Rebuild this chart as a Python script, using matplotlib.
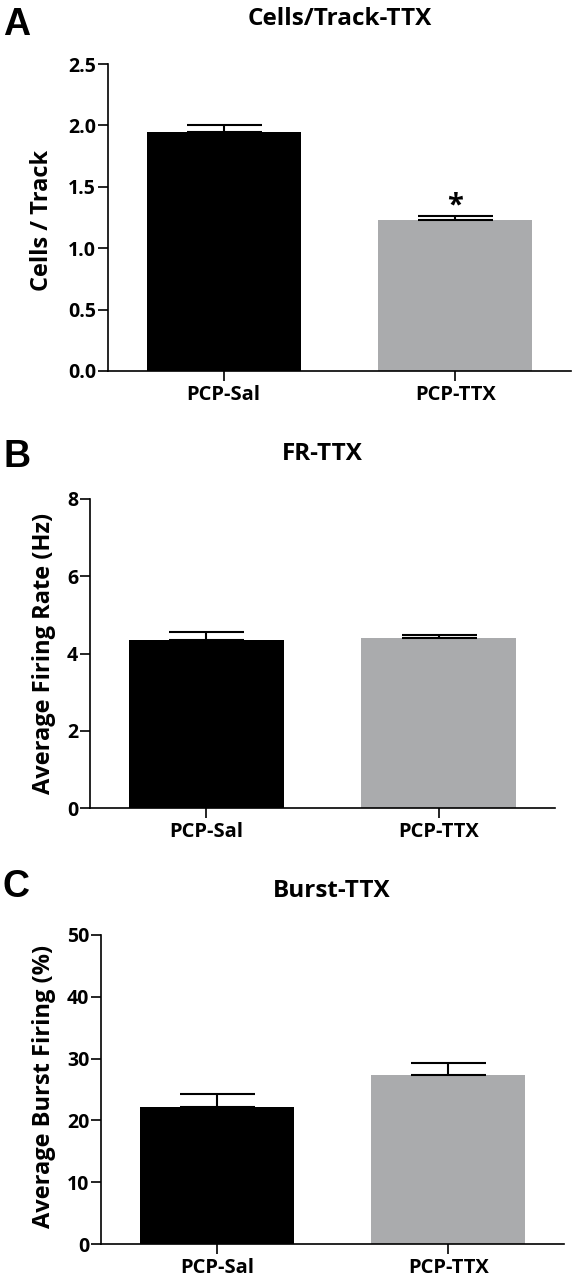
import matplotlib
matplotlib.use('Agg')
import matplotlib.pyplot as plt

plt.rcParams['font.family'] = ['Open Sans', 'DejaVu Sans']
plt.rcParams['font.weight'] = 'bold'

groups = ['PCP-Sal', 'PCP-TTX']
bar_colors = ['#000000', '#aaabad']

# A: cells per track
cells_mean = [1.95, 1.23]
cells_sem = [0.05, 0.035]
# B: firing rate
fr_mean = [4.35, 4.40]
fr_sem = [0.20, 0.09]
# C: burst firing
burst_mean = [22.2, 27.3]
burst_sem = [2.1, 2.0]

fig = plt.figure(figsize=(5.74, 12.8), dpi=100)
W, H = 574, 1280


def make_axes(left, right, top, bottom):
    return fig.add_axes([left / W, 1 - bottom / H, (right - left) / W, (bottom - top) / H])


def draw_panel(ax, means, sems, yticks, ylabels):
    x = list(range(len(groups)))
    ax.bar(x, means, width=0.667, color=bar_colors, zorder=2)
    for i in x:
        ax.errorbar(i, means[i], yerr=[[0], [sems[i]]], color='black', lw=1.5,
                    capsize=27, capthick=1.5, zorder=3)
    ax.set_xlim(-0.5, 1.5)
    ax.set_ylim(yticks[0], yticks[-1])
    ax.set_xticks(x)
    ax.set_xticklabels(groups, fontsize=14.5, fontweight='bold')
    ax.set_yticks(yticks)
    ax.set_yticklabels(ylabels, fontsize=14, fontweight='bold')
    for s in ['top', 'right']:
        ax.spines[s].set_visible(False)
    for s in ['left', 'bottom']:
        ax.spines[s].set_linewidth(1.2)
        ax.spines[s].set_zorder(4)
    ax.tick_params(axis='x', length=7, width=1.2, pad=3)
    ax.tick_params(axis='y', length=7, width=1.2, pad=1.5)


axA = make_axes(108, 571, 64, 371)
draw_panel(axA, cells_mean, cells_sem, [0, 0.5, 1.0, 1.5, 2.0, 2.5],
           ['0.0', '0.5', '1.0', '1.5', '2.0', '2.5'])
axA.text(1, 1.28, '*', ha='center', va='baseline', fontsize=21, fontweight='bold')

axB = make_axes(90, 555, 499, 808)
draw_panel(axB, fr_mean, fr_sem, [0, 2, 4, 6, 8], ['0', '2', '4', '6', '8'])

axC = make_axes(101, 564, 935, 1244)
draw_panel(axC, burst_mean, burst_sem, [0, 10, 20, 30, 40, 50],
           ['0', '10', '20', '30', '40', '50'])

# titles
fig.text(340 / W, 1 - 25 / H, 'Cells/Track-TTX', ha='center', va='baseline', fontsize=17.5, fontweight='bold')
fig.text(322 / W, 1 - 460 / H, 'FR-TTX', ha='center', va='baseline', fontsize=17.5, fontweight='bold')
fig.text(332 / W, 1 - 897 / H, 'Burst-TTX', ha='center', va='baseline', fontsize=17.5, fontweight='bold')

# y labels
fig.text(42 / W, 1 - 220 / H, 'Cells / Track', rotation=90, ha='center', va='center', fontsize=17, fontweight='bold')
fig.text(44 / W, 1 - 653 / H, 'Average Firing Rate (Hz)', rotation=90, ha='center', va='center', fontsize=17, fontweight='bold')
fig.text(44 / W, 1 - 1086 / H, 'Average Burst Firing (%)', rotation=90, ha='center', va='center', fontsize=17, fontweight='bold')

# panel letters
for letter, base in [('A', 35), ('B', 467), ('C', 897)]:
    fig.text(3 / W, 1 - base / H, letter, ha='left', va='baseline', fontsize=27,
             fontweight='bold', family='Liberation Sans')

fig.savefig('out.png', dpi=100)
